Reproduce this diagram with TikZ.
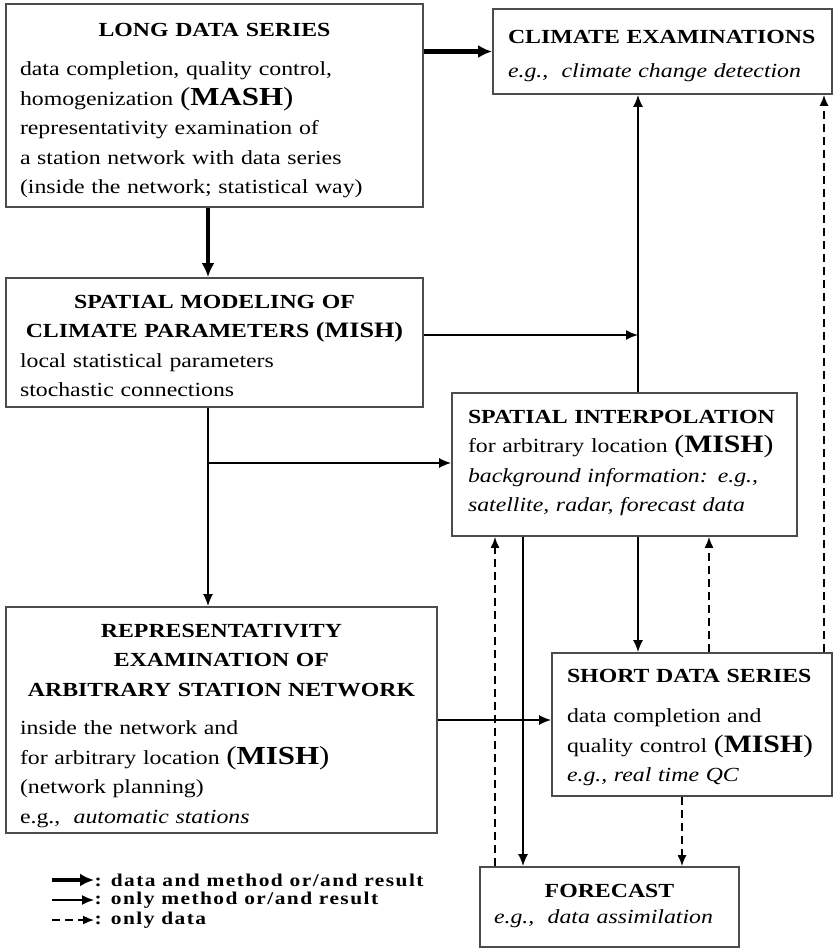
\documentclass[tikz,border=0pt]{standalone}
\usepackage{fontspec}
\setmainfont{Liberation Serif}[FakeStretch=1.19]
\usetikzlibrary{arrows.meta}
\newcommand{\acr}[2][26]{{\fontsize{#1}{30}\selectfont(\textbf{#2})}}
\tikzset{
  box/.style={draw=black!70, line width=1.8pt, rectangle, anchor=base, inner ysep=0pt, inner xsep=14pt, font=\fontsize{20}{29.5}\selectfont},
  datamethod/.style={line width=4.5pt, -{Latex[length=14pt,width=13pt]}},
  methodonly/.style={line width=1.6pt, -{Latex[length=12pt,width=10pt]}},
  dataonly/.style={line width=1.6pt, dash pattern=on 8pt off 5pt, -{Latex[length=11pt,width=9pt]}},
  key/.style={anchor=west, inner sep=0.5pt, font=\fontsize{18}{18}\selectfont\bfseries\addfontfeature{LetterSpace=8}},
}
\begin{document}
\begin{tikzpicture}[x=1pt,y=-1pt]
\useasboundingbox (0,0) rectangle (833,949);
% boxes
\node[box, text width=389pt, text height=33pt, text depth=170pt] (long) at (214.5,37)
  {\centering\textbf{LONG DATA SERIES}\par\vspace{9.5pt}\raggedright
   data completion, quality control,\\
   homogenization \acr{MASH}\\
   representativity examination of\\
   a station network with data series\\
   (inside the network; statistical way)};
\node[box, inner xsep=15pt, text width=309pt, text height=35pt, text depth=50pt] (clim) at (662.5,44)
  {\raggedright\textbf{CLIMATE EXAMINATIONS}\par\vspace{4.5pt}
   \textit{e.g.,~ climate change detection}};
\node[box, text width=389pt, text height=30pt, text depth=99pt] (smc) at (214.5,308)
  {\centering\textbf{SPATIAL MODELING OF}\\ \textbf{CLIMATE PARAMETERS \acr[22]{MISH}}\par\raggedright
   local statistical parameters\\
   stochastic connections};
\node[box, inner xsep=16pt, text width=313pt, text height=30pt, text depth=113pt] (si) at (624.5,423)
  {\raggedright\textbf{SPATIAL INTERPOLATION}\\
   for arbitrary location \acr[25]{MISH}\\
   \textit{background information: e.g.,}\\
   \textit{satellite, radar, forecast data}};
\node[box, text width=403pt, text height=30pt, text depth=196pt] (repr) at (221.5,637)
  {\centering\textbf{REPRESENTATIVITY}\\ \textbf{EXAMINATION OF}\\ \textbf{ARBITRARY STATION NETWORK}\par\vspace{9pt}\raggedright
   inside the network and\\
   for arbitrary location \acr{MISH}\\
   (network planning)\\
   e.g.,~ \textit{automatic stations}};
\node[box, inner xsep=15pt, text width=250pt, text height=29pt, text depth=114pt] (sds) at (692,682)
  {\raggedright\textbf{SHORT DATA SERIES}\par\vspace{11pt}
   data completion and\\
   quality control \acr[25]{MISH}\\
   \textit{e.g., real time QC}};
\node[box, text width=231pt, text height=30pt, text depth=50pt] (fc) at (609.5,897)
  {\centering\textbf{FORECAST}\\[-3.5pt] \textit{e.g.,~ data assimilation}};
% lanes
\coordinate (riser) at (638,335);
\coordinate (fork) at (208,463);
\coordinate (lanea) at (495,0);
\coordinate (laneb) at (523,0);
\coordinate (laned) at (709,0);
\coordinate (lanee) at (682,0);
\coordinate (lanef) at (824,0);
% connectors
\draw[datamethod] (long.east |- clim.west) -- (clim.west);
\draw[datamethod] (long.south -| fork) -- (smc.north -| fork);
\draw[methodonly] (smc.east |- riser) -- (riser);
\draw[methodonly] (si.north -| riser) -- (clim.south -| riser);
\draw[methodonly] (smc.south -| fork) -- (repr.north -| fork);
\draw[methodonly] (fork) -- (fork -| si.west);
\draw[methodonly] (repr.east) -- (repr.east -| sds.west);
\draw[methodonly] (si.south -| riser) -- (sds.north -| riser);
\draw[methodonly] (si.south -| laneb) -- (fc.north -| laneb);
\draw[dataonly] (fc.north -| lanea) -- (si.south -| lanea);
\draw[dataonly] (sds.north -| laned) -- (si.south -| laned);
\draw[dataonly] (sds.south -| lanee) -- (fc.north -| lanee);
\draw[dataonly] (sds.north -| lanef) -- (clim.south -| lanef);
% legend
\node[key] (keyboth) at (94,880) {: data and method or/and result};
\node[key] (keymethod) at (94,900) {: only method or/and result};
\node[key] (keydata) at (94,920) {: only data};
\coordinate (tailboth) at (52,880);
\coordinate (tailmethod) at (52,900);
\coordinate (taildata) at (52,920);
\draw[datamethod] (tailboth) -- (keyboth.west);
\draw[methodonly] (tailmethod) -- (keymethod.west);
\draw[dataonly] (taildata) -- (keydata.west);
\end{tikzpicture}
\end{document}
